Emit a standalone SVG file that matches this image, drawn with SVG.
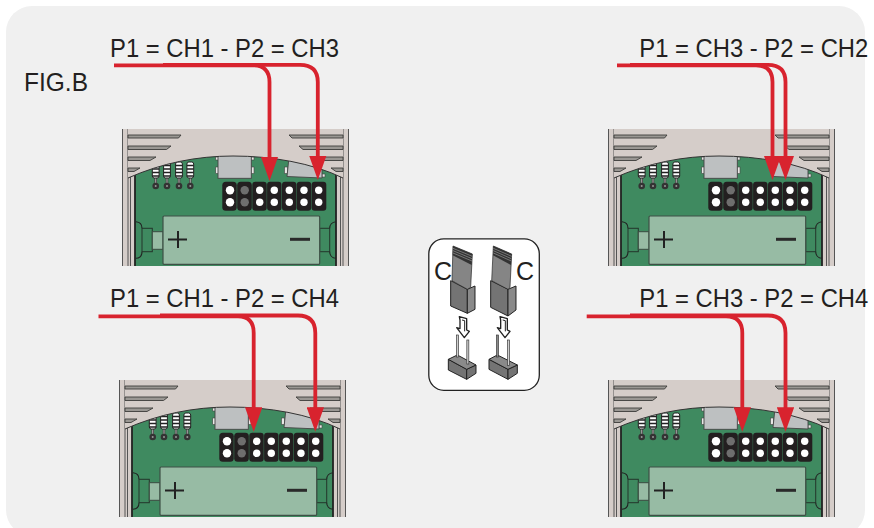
<svg xmlns="http://www.w3.org/2000/svg" width="874" height="528" viewBox="0 0 874 528">
<style>
.t{font-family:"Liberation Sans",Arial,sans-serif;font-size:25px;fill:#231f20}
.w{fill:none;stroke:#d8232e;stroke-width:3.8}
.a{marker-end:url(#h)}
.bk{fill:#231f20}
.d1{fill:#fff}
.d2{fill:#6e6e6e}
.v{fill:#9a9793;stroke:#3c3c3a;stroke-width:.9}
.s{fill:none;stroke:#333;stroke-width:1}
.gn{fill:#3f8a60}
.chip{fill:#bdc0c1;stroke:#444;stroke-width:.9}
.tab{fill:#e8e8e6;stroke:#444;stroke-width:.6}
.jd{fill:#747474;stroke:#222;stroke-width:3}
.js{fill:#858585;stroke:#222;stroke-width:2}
.jl{fill:#8a8a8a;stroke:#222;stroke-width:3}
.ph{fill:#cfcfcf;stroke:#333;stroke-width:2}
.pd{fill:#8b8b8b;stroke:#333;stroke-width:2}
.ar{fill:#fff;stroke:#222;stroke-width:4;stroke-linejoin:round}
</style>
<defs>
<marker id="h" markerUnits="userSpaceOnUse" markerWidth="25" markerHeight="17.4" refX="14.5" refY="8.7" orient="auto">
<path d="M0 0L24.500 8.700L0 17.400Z" fill="#d8232e"/>
</marker>
<clipPath id="bc"><rect width="227" height="137"/></clipPath>
<g id="res">
<path d="M0 44V57" stroke="#444" stroke-width="2.600"/>
<path d="M0 44V57" stroke="#aaa" stroke-width="1"/>
<circle cy="57" r="3.300" fill="#333"/>
<circle cy="57" r="1" fill="#999"/>
<rect x="-3.400" y="33" width="6.800" height="16" rx="2" fill="#fff" stroke="#222"/>
<path d="M-3.400 36.500h6.800M-3.400 40h6.800M-3.400 43.500h6.800M-3.400 47h6.800" stroke="#222" stroke-width="1.300"/>
</g>
<g id="board" clip-path="url(#bc)">
<rect width="227" height="137" fill="#d5cdc9"/>
<rect x="13" y="20" width="201" height="117" class="gn"/>
<path d="M.5 0V137M6 0V137M8.500 45V137M221 0V137M218.500 45V137M226.500 0V137" stroke="#555" stroke-width="1" fill="none"/>
<path d="M13 40V137M214 40V137" stroke="#222" stroke-width="1.800" fill="none"/>
<rect x="93.700" y="28" width="3" height="3" class="tab"/><rect x="93.700" y="38" width="3" height="6.500" class="tab"/>
<rect x="129" y="28" width="3" height="3" class="tab"/><rect x="129" y="38" width="3" height="6.500" class="tab"/>
<rect x="96" y="26" width="33.300" height="23.300" class="chip"/>
<rect x="162.500" y="38" width="3" height="6.500" class="tab"/><rect x="200" y="45" width="3" height="3" class="tab"/>
<path d="M167 28L165 47.500L200 49V28Z" class="chip"/>
<use href="#res" x="33.700"/><use href="#res" x="45"/><use href="#res" x="57"/><use href="#res" x="68.300"/>
<path d="M6 49C40 34 75 27 111 27C150 27 190 34 221 49V0H6Z" fill="#d5cdc9"/>
<path d="M6 49C40 34 75 27 111 27C150 27 190 34 221 49" class="s"/>
<path d="M6 6H59L56.500 9H6ZM6 17H49L44.500 20.500H6ZM6 28H34L28 31.500H6ZM6 39H18L12 42.500H6Z" class="v"/>
<path d="M221 6H167L170 9H221ZM221 17H177L181 20.500H221ZM221 28H191L196 31.500H221ZM221 39H209L214 42.500H221Z" class="v"/>
<rect x="100.300" y="52.700" width="14.400" height="29" rx="3.500" class="bk"/><rect x="115.200" y="52.700" width="14.600" height="29" rx="3.500" class="bk"/>
<rect x="130.300" y="52.700" width="14.400" height="29" rx="3" class="bk"/><rect x="145.100" y="52.700" width="14.400" height="29" rx="3" class="bk"/>
<rect x="160" y="52.700" width="14.400" height="29" rx="3" class="bk"/><rect x="174.800" y="52.700" width="14.400" height="29" rx="3" class="bk"/><rect x="189.600" y="52.700" width="14.700" height="29" rx="3" class="bk"/>
<circle cx="108" cy="61.300" r="4.200" class="d1"/><circle cx="108" cy="73.300" r="4.200" class="d1"/>
<circle cx="122.700" cy="61.300" r="4.200" class="d2"/><circle cx="122.700" cy="73.300" r="4.200" class="d2"/>
<circle cx="137.700" cy="61.300" r="3.700" class="d1"/><circle cx="137.700" cy="73.300" r="3.700" class="d1"/>
<circle cx="152.300" cy="61.300" r="3.700" class="d1"/><circle cx="152.300" cy="73.300" r="3.700" class="d1"/>
<circle cx="167.300" cy="61.300" r="3.700" class="d1"/><circle cx="167.300" cy="73.300" r="3.700" class="d1"/>
<circle cx="182" cy="61.300" r="3.700" class="d1"/><circle cx="182" cy="73.300" r="3.700" class="d1"/>
<circle cx="196.700" cy="61.300" r="3.700" class="d1"/><circle cx="196.700" cy="73.300" r="3.700" class="d1"/>
<path d="M14 92.700C18 93 20 96 20 99.300M20 122.700C20 126 18 129 14 129.300M214 92.700C210 93 207.700 96 207.700 99.300M207.700 122.700C207.700 126 210 129 214 129.300" fill="none" stroke="#222" stroke-width="1.100"/>
<rect x="20" y="99.300" width="10.300" height="23.400" class="gn" stroke="#24352b"/>
<rect x="30.300" y="102.700" width="10.700" height="17.600" fill="#97bba4" stroke="#3a4a40"/>
<rect x="197.700" y="99.300" width="10" height="23.400" class="gn" stroke="#24352b"/>
<rect x="41" y="87" width="156.700" height="48.300" rx="1" fill="#97bba4" stroke="#3e5046" stroke-width="1.200"/>
<path d="M46 110.500H65M56 102V119" fill="none" stroke="#222" stroke-width="2"/>
<path d="M168 110.300H188" fill="none" stroke="#2a2a2a" stroke-width="3"/>
</g>
</defs>
<rect x="6" y="6" width="859" height="530" rx="26" fill="#f0f0f0"/>

<g id="board-top-left"><use href="#board" x="122" y="129"/></g>
<g id="board-top-right"><use href="#board" x="608" y="129"/></g>
<g id="board-bottom-left"><use href="#board" x="119" y="380"/></g>
<g id="board-bottom-right"><use href="#board" x="608" y="380"/></g>

<g id="jumper-legend">
<rect x="428.800" y="238.800" width="110.500" height="151.500" rx="15" fill="#fff" stroke="#222" stroke-width="1.300"/>
<g transform="translate(420 230) scale(.33333)">
<path d="M92 152L142 178V250L92 228Z" class="jd"/>
<path d="M142 178L165 168V238L142 250Z" class="jl"/>
<path d="M212 152L264 178V258L212 232Z" class="jd"/>
<path d="M264 178L288 168V240L264 258Z" class="jl"/>
<path d="M99 48L157 72L152 172L142 178L96 152Z" class="js"/>
<path d="M99 48L157 72L155 105L98 76Z" fill="#333"/>
<path d="M99 55L157 79M99 62L156 86M99 69L156 93" stroke="#999" stroke-width="2"/>
<path d="M220 48L275 72L270 172L264 178L215 152Z" class="js"/>
<path d="M220 48L275 72L273 105L219 76Z" fill="#333"/>
<path d="M220 55L275 79M220 62L274 86M220 69L274 93" stroke="#999" stroke-width="2"/>
<path d="M118 260L140 266V300L148 304L133 323L110 293L120 296V270Z" class="ar"/>
<path d="M126 270L134 272V304" fill="none" stroke="#222" stroke-width="3"/>
<path d="M240 260L262 266V300L270 304L255 323L232 293L242 296V270Z" class="ar"/>
<path d="M248 270L256 272V304" fill="none" stroke="#222" stroke-width="3"/>
<path d="M85 388L140 418V448L85 420Z" class="jd"/>
<path d="M140 418L168 405V430L140 448Z" class="jd"/>
<path d="M85 388L112 375L168 405L140 418Z" class="jl"/>
<path d="M207 388L264 418V448L207 418Z" class="jd"/>
<path d="M264 418L292 405V430L264 448Z" class="jd"/>
<path d="M207 388L232 375L292 405L264 418Z" class="jl"/>
<rect x="109.500" y="315" width="6" height="66" class="ph"/>
<rect x="140.500" y="330" width="6" height="72" class="ph"/>
<rect x="229.500" y="315" width="6" height="66" class="pd"/>
<rect x="262.500" y="330" width="6" height="76" class="ph"/>
</g>
<text class="t" x="434" y="279.500">C</text>
<text class="t" x="516" y="279.500">C</text>
</g>

<g id="connectors">
<path class="w a" d="M114 65.300H253Q269.500 65.300 269.500 82V171"/>
<path class="w a" d="M163 64.800H300Q317.800 64.800 317.800 82V170"/>
<path class="w a" d="M617 65.300H756Q772.500 65.300 772.500 82V170"/>
<path class="w a" d="M630 64.800H768Q785.500 64.800 785.500 82V170"/>
<path class="w a" d="M98.500 316.300H238Q253.700 316.300 253.700 333V421.700"/>
<path class="w a" d="M160 315.500H298Q315.300 315.500 315.300 333V421.700"/>
<path class="w a" d="M586.700 316.300H726Q742.300 316.300 742.300 333V421.700"/>
<path class="w a" d="M630 315.500H768Q785.500 315.500 785.500 333V421.700"/>
</g>

<g id="labels">
<text class="t" x="110" y="57" textLength="229" lengthAdjust="spacingAndGlyphs">P1 = CH1 - P2 = CH3</text>
<text class="t" x="639.300" y="57" textLength="229" lengthAdjust="spacingAndGlyphs">P1 = CH3 - P2 = CH2</text>
<text class="t" x="110" y="306.700" textLength="229" lengthAdjust="spacingAndGlyphs">P1 = CH1 - P2 = CH4</text>
<text class="t" x="639.300" y="306.700" textLength="229" lengthAdjust="spacingAndGlyphs">P1 = CH3 - P2 = CH4</text>
<text class="t" x="24" y="90.700" textLength="64" lengthAdjust="spacingAndGlyphs">FIG.B</text>
</g>
</svg>
